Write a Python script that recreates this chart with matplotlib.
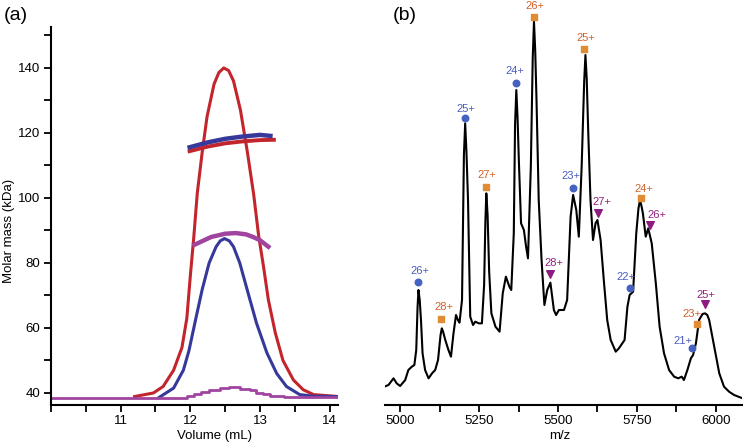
import numpy as np
import matplotlib.pyplot as plt
from matplotlib.ticker import MultipleLocator

plt.rcParams['font.family'] = ['Liberation Sans', 'DejaVu Sans']

# ---- panel (a): SEC-MALS ----
red_vol = [11.2, 11.47, 11.61, 11.76, 11.88, 11.95, 12.0, 12.05, 12.1, 12.17, 12.24, 12.34,
           12.41, 12.48, 12.55, 12.62, 12.72, 12.82, 12.91, 12.98, 13.05, 13.12, 13.22, 13.33,
           13.48, 13.62, 13.77, 14.12]
red_sig = [38.9, 40, 42, 47, 54, 63, 76, 88, 101.5, 114, 125, 135,
           138.6, 140, 139.2, 136, 127, 114, 101, 88.5, 79, 68.7, 58.5, 50,
           44, 41, 39.5, 38.9]
blue_vol = [11.55, 11.76, 11.9, 11.98, 12.07, 12.17, 12.27, 12.37, 12.43, 12.49, 12.56, 12.62,
            12.71, 12.83, 12.95, 13.1, 13.24, 13.38, 13.57, 13.77, 14.12]
blue_sig = [38.6, 41.5, 47, 53, 62, 71.8, 80, 85, 86.8, 87.5, 86.8, 85,
            80, 70.7, 61.5, 52.3, 46, 42, 39.5, 39, 38.9]
purple_vol = [10.0, 11.9, 12.0, 12.1, 12.2, 12.35, 12.5, 12.62, 12.8, 12.9, 13.0, 13.1,
              13.2, 13.5, 14.12]
purple_sig = [38.5, 38.5, 39.2, 39.6, 40.2, 40.8, 41.4, 41.8, 41.3, 40.8, 40.1, 39.6,
              39.2, 38.8, 38.8]

red_mm_vol = [11.99, 12.25, 12.5, 12.75, 13.0, 13.2]
red_mm = [114.4, 115.8, 116.8, 117.4, 117.8, 117.9]
blue_mm_vol = [11.99, 12.25, 12.5, 12.75, 13.0, 13.15]
blue_mm = [115.6, 117.1, 118.2, 118.9, 119.4, 119.1]
purple_mm_vol = [12.06, 12.2, 12.3, 12.5, 12.65, 12.8, 12.9, 13.0, 13.12]
purple_mm = [85.6, 87.0, 88.0, 89.0, 89.2, 88.8, 88.0, 87.0, 85.0]

# ---- panel (b): native MS ----
mz = [4950, 4963, 4979, 4989, 5000, 5016, 5026, 5037, 5045, 5051, 5055, 5058, 5062, 5066,
      5071, 5079, 5090, 5101, 5111, 5120, 5128, 5132, 5136, 5143, 5153, 5161, 5169, 5177,
      5183, 5188, 5196, 5202, 5206, 5210, 5215, 5222, 5231, 5238, 5249, 5259, 5266, 5270,
      5273, 5277, 5282, 5289, 5302, 5315, 5325, 5335, 5346, 5352, 5360, 5364, 5368, 5372,
      5376, 5383, 5392, 5399, 5405, 5414, 5420, 5424, 5428, 5432, 5439, 5448, 5457, 5466,
      5476, 5487, 5494, 5503, 5519, 5529, 5540, 5548, 5558, 5566, 5575, 5583, 5587, 5591,
      5596, 5603, 5611, 5619, 5625, 5635, 5646, 5656, 5667, 5683, 5693, 5704, 5711, 5720,
      5727, 5738, 5748, 5755, 5760, 5765, 5769, 5778, 5786, 5797, 5810, 5822, 5836, 5852,
      5868, 5881, 5892, 5899, 5910, 5921, 5928, 5937, 5947, 5958, 5966, 5973, 5979, 5995,
      6011, 6026, 6042, 6058, 6085]
intensity = [5.5, 6.0, 8.0, 6.5, 5.7, 7.5, 10.5, 11.5, 12.0, 16.5, 29.0, 34.5, 31.5, 25.5,
             15.5, 10.5, 8.0, 9.5, 10.5, 13.5, 21.0, 23.0, 22.0, 19.5, 16.5, 14.5, 21.5, 27.0,
             25.5, 24.7, 31.5, 75.0, 84.5, 76.0, 61.5, 26.5, 24.0, 25.0, 24.5, 24.5, 36.0, 55.0,
             63.5, 57.0, 40.0, 27.5, 23.5, 22.0, 33.5, 38.5, 35.5, 34.5, 51.5, 84.0, 94.5, 86.0,
             73.5, 54.5, 52.5, 47.5, 44.0, 71.5, 104.0, 115.0, 106.0, 91.5, 61.5, 43.5, 30.0, 34.5,
             36.7, 28.5, 27.0, 28.5, 28.5, 31.5, 56.5, 63.0, 58.5, 50.5, 71.5, 97.0, 105.0, 98.0,
             81.5, 61.5, 49.5, 54.5, 55.5, 49.5, 36.5, 25.5, 19.5, 16.0, 17.0, 18.5, 19.5, 29.5,
             33.0, 34.0, 51.5, 59.0, 61.5, 59.5, 57.5, 50.5, 53.0, 48.5, 36.5, 23.5, 15.5, 10.5,
             8.5, 8.0, 8.5, 7.5, 10.5, 14.0, 15.0, 18.5, 25.5, 27.3, 27.5, 27.0, 25.5, 17.5,
             9.5, 5.5, 4.0, 3.0, 2.0]

circ_mz = [5058, 5204, 5368, 5547, 5728, 5926]
circ_int = [36.8, 86.0, 96.5, 65.0, 35.2, 17.0]
circ_lab = ['26+', '25+', '24+', '23+', '22+', '21+']
sq_mz = [5130, 5273, 5423, 5584, 5762, 5939]
sq_int = [25.8, 65.3, 116.5, 106.8, 62.0, 24.3]
sq_lab = ['28+', '27+', '26+', '25+', '24+', '23+']
tri_mz = [5476, 5626, 5792, 5966]
tri_int = [39.2, 57.5, 54.0, 30.2]
tri_lab = ['28+', '27+', '26+', '25+']

# label offsets (points)
circ_off = [(1, 8), (1, 7), (-1, 9), (-1, 9), (-3, 7.5), (-6.5, 5.5)]
sq_off = [(2, 9), (0.5, 9), (1, 8), (1, 8), (2, 7), (-3.5, 7)]
tri_off = [(2.5, 8), (3, 8.5), (5, 7.5), (0.5, 7)]

RED = '#c3252c'
BLUE = '#36399a'
PURPLE = '#a044a0'

fig = plt.figure(figsize=(7.44, 4.44), dpi=100)

ax = fig.add_axes([51 / 744, 39 / 444, 287 / 744, 378 / 444])
ax.plot(red_vol, red_sig, color=RED, lw=2.2)
ax.plot(blue_vol, blue_sig, color=BLUE, lw=2.2)
ax.plot(purple_vol, purple_sig, color=PURPLE, lw=2.0, drawstyle='steps-mid')
ax.plot(red_mm_vol, red_mm, color=RED, lw=2.8)
ax.plot(blue_mm_vol, blue_mm, color=BLUE, lw=3.2)
ax.plot(purple_mm_vol, purple_mm, color=PURPLE, lw=3.2)
ax.set_xlim(10.0, 14.12)
ax.set_ylim(36.3, 152.6)
ax.xaxis.set_minor_locator(MultipleLocator(0.5))
ax.yaxis.set_major_locator(MultipleLocator(20))
ax.yaxis.set_minor_locator(MultipleLocator(10))
ax.set_xticks([11, 12, 13, 14])
ax.tick_params(which='both', direction='out', length=5, width=1.3, labelsize=9.5, pad=2.5)
ax.spines[['top', 'right']].set_visible(False)
ax.spines[['left', 'bottom']].set_linewidth(1.5)
ax.set_xlabel('Volume (mL)', fontsize=9.5, va='center')
ax.set_ylabel('Molar mass (kDa)', fontsize=9.5, va='center')
ax.xaxis.set_label_coords(0.571, -0.081)
ax.yaxis.set_label_coords(-0.148, 0.46)
fig.text(16 / 744, 1 - 15 / 444, '(a)', fontsize=14, ha='center', va='center')

bx = fig.add_axes([385 / 744, 39 / 444, 357 / 744, 405 / 444])
bx.plot(mz, intensity, color='black', lw=1.5)
bx.scatter(circ_mz, circ_int, marker='o', s=22, color='#4462c0', zorder=3)
bx.scatter(sq_mz, sq_int, marker='s', s=22, color='#e08c34', zorder=3)
bx.scatter(tri_mz, tri_int, marker='v', s=30, color='#8c1c80', zorder=3)
for xs, ys, labs, offs, col in [(circ_mz, circ_int, circ_lab, circ_off, '#4a5cc0'),
                                (sq_mz, sq_int, sq_lab, sq_off, '#d2622c'),
                                (tri_mz, tri_int, tri_lab, tri_off, '#92207e')]:
    for x, y, t, o in zip(xs, ys, labs, offs):
        bx.annotate(t, (x, y), xytext=o, textcoords='offset points',
                    ha='center', va='center', fontsize=8, color=col)
bx.set_xlim(4952, 6083)
bx.set_ylim(0, 121.5)
bx.xaxis.set_major_locator(MultipleLocator(250))
bx.xaxis.set_minor_locator(MultipleLocator(125))
bx.tick_params(which='both', direction='out', length=5, width=1.3, labelsize=9.5, pad=2.5)
bx.set_yticks([])
for s in ['top', 'right', 'left']:
    bx.spines[s].set_visible(False)
bx.spines['bottom'].set_linewidth(1.5)
bx.set_xlabel('m/z', fontsize=9.5, va='center')
bx.xaxis.set_label_coords(0.49, -0.076)
fig.text(405 / 744, 1 - 15 / 444, '(b)', fontsize=14, ha='center', va='center')

fig.savefig('out.png', dpi=100)
